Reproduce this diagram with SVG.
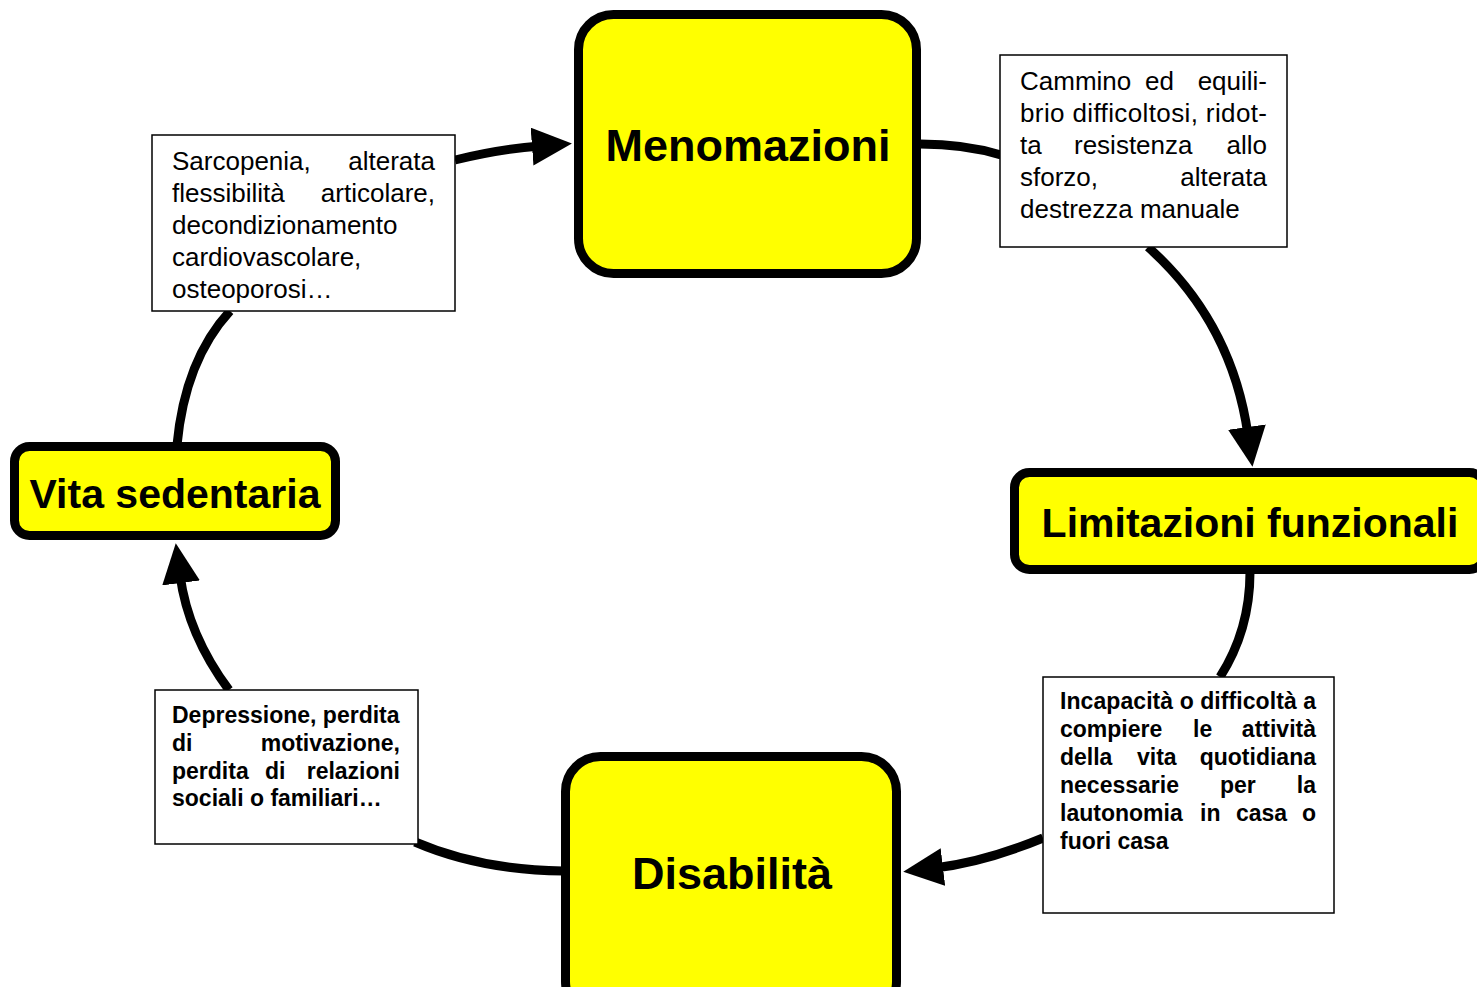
<svg xmlns="http://www.w3.org/2000/svg" width="1477" height="987" viewBox="0 0 1477 987">
<style>
.node{fill:#ffff00;stroke:#000;stroke-width:9}
.big{font-family:"Liberation Sans",Arial,sans-serif;font-weight:bold;font-size:45px;fill:#000}
.mid{font-family:"Liberation Sans",Arial,sans-serif;font-weight:bold;font-size:41px;fill:#000}
.box{fill:#fff;stroke:#000;stroke-width:1.5}
.reg{font-family:"Liberation Sans",Arial,sans-serif;font-size:26px;fill:#000}
.bld{font-family:"Liberation Sans",Arial,sans-serif;font-weight:bold;font-size:23px;fill:#000}
.con{fill:none;stroke:#000;stroke-width:9}
.e{text-anchor:end}
</style>
<defs>
<marker id="arr" markerUnits="userSpaceOnUse" markerWidth="40" markerHeight="38" refX="8" refY="19" orient="auto" viewBox="0 0 40 38">
<path d="M0,0 L40,19 L0,38 z" fill="#000"/>
</marker>
</defs>
<rect width="1477" height="987" fill="#fff"/>
<g id="connectors">
<path class="con" d="M177,445 Q185,360 230,311"/>
<path class="con" d="M455,160 Q500,149 540,146" marker-end="url(#arr)"/>
<path class="con" d="M920,144 Q965,144 1001,155"/>
<path class="con" d="M1148,247 Q1232,322 1248,435" marker-end="url(#arr)"/>
<path class="con" d="M1250,572 Q1250,630 1220,677"/>
<path class="con" d="M1043,838 Q985,862 935,868" marker-end="url(#arr)"/>
<path class="con" d="M563,871 Q480,870 415,842"/>
<path class="con" d="M229,690 Q188,635 180,575" marker-end="url(#arr)"/>
</g>
<g id="menomazioni">
<rect class="node" x="578.5" y="14.5" width="338" height="259" rx="35"/>
<text class="big" x="748" y="161" text-anchor="middle">Menomazioni</text>
</g>
<g id="limitazioni">
<rect class="node" x="1014.5" y="472.5" width="470" height="97" rx="15"/>
<text class="mid" x="1250" y="537" text-anchor="middle">Limitazioni funzionali</text>
</g>
<g id="disabilita">
<rect class="node" x="565.5" y="756.5" width="331" height="260" rx="35"/>
<text class="big" x="732" y="889" text-anchor="middle">Disabilità</text>
</g>
<g id="vita">
<rect class="node" x="14.5" y="446.5" width="321" height="89" rx="15"/>
<text class="mid" x="175" y="508" text-anchor="middle">Vita sedentaria</text>
</g>
<g id="box-menomazioni">
<rect class="box" x="152" y="135" width="303" height="176"/>
<text class="reg" x="172" y="170">Sarcopenia,</text>
<text class="reg e" x="435" y="170">alterata</text>
<text class="reg" x="172" y="202">flessibilità</text>
<text class="reg e" x="435" y="202">articolare,</text>
<text class="reg" x="172" y="234">decondizionamento</text>
<text class="reg" x="172" y="266">cardiovascolare,</text>
<text class="reg" x="172" y="298">osteoporosi…</text>
</g>
<g id="box-limitazioni">
<rect class="box" x="1000" y="55" width="287" height="192"/>
<text class="reg" x="1020" y="90">Cammino</text>
<text class="reg" x="1145" y="90">ed</text>
<text class="reg e" x="1267" y="90">equili-</text>
<text class="reg" x="1020" y="122" textLength="247" lengthAdjust="spacing">brio difficoltosi, ridot-</text>
<text class="reg" x="1020" y="154">ta</text>
<text class="reg" x="1074" y="154">resistenza</text>
<text class="reg e" x="1267" y="154">allo</text>
<text class="reg" x="1020" y="186">sforzo,</text>
<text class="reg e" x="1267" y="186">alterata</text>
<text class="reg" x="1020" y="218">destrezza manuale</text>
</g>
<g id="box-disabilita">
<rect class="box" x="1043" y="677" width="291" height="236"/>
<text class="bld" x="1060" y="709" textLength="256" lengthAdjust="spacing">Incapacità o difficoltà a</text>
<text class="bld" x="1060" y="737">compiere</text>
<text class="bld" x="1193" y="737">le</text>
<text class="bld e" x="1316" y="737">attività</text>
<text class="bld" x="1060" y="765">della</text>
<text class="bld" x="1137" y="765">vita</text>
<text class="bld e" x="1316" y="765">quotidiana</text>
<text class="bld" x="1060" y="793">necessarie</text>
<text class="bld" x="1220" y="793">per</text>
<text class="bld e" x="1316" y="793">la</text>
<text class="bld" x="1060" y="821">lautonomia</text>
<text class="bld" x="1200" y="821">in</text>
<text class="bld" x="1236" y="821">casa</text>
<text class="bld e" x="1316" y="821">o</text>
<text class="bld" x="1060" y="849">fuori casa</text>
</g>
<g id="box-vita">
<rect class="box" x="155" y="690" width="263" height="154"/>
<text class="bld" x="172" y="723">Depressione, perdita</text>
<text class="bld" x="172" y="751">di</text>
<text class="bld e" x="400" y="751">motivazione,</text>
<text class="bld" x="172" y="779">perdita</text>
<text class="bld" x="265" y="779">di</text>
<text class="bld e" x="400" y="779">relazioni</text>
<text class="bld" x="172" y="806">sociali o familiari…</text>
</g>
</svg>
